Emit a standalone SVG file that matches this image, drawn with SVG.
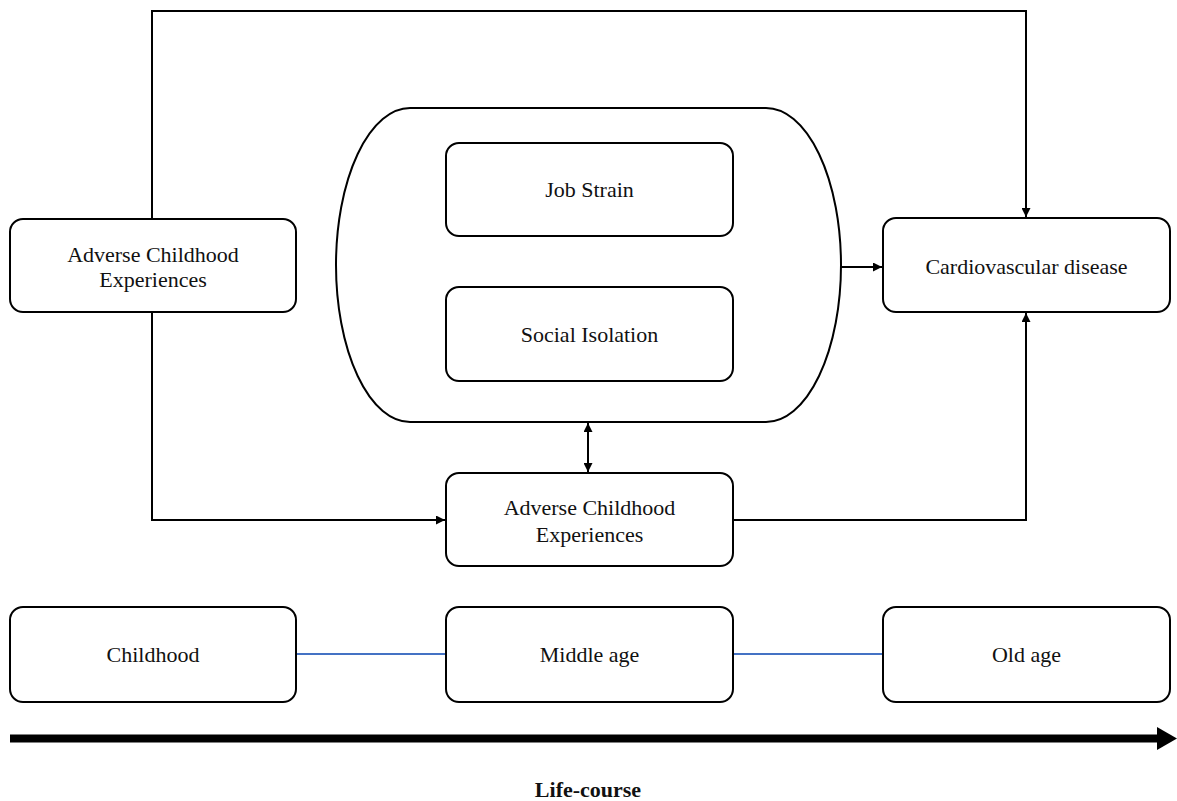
<svg xmlns="http://www.w3.org/2000/svg" width="1177" height="801" viewBox="0 0 1177 801">
<style>
.box{fill:#fff;stroke:#000;stroke-width:2}
.lbl{font-family:"Liberation Serif","Times New Roman",serif;font-size:22px;fill:#111;text-anchor:middle}
.con{fill:none;stroke:#000;stroke-width:2}
.blue{fill:none;stroke:#4472C4;stroke-width:2}
</style>
<defs>
<marker id="ah" viewBox="0 0 10 10" refX="10" refY="5" markerWidth="10" markerHeight="9" markerUnits="userSpaceOnUse" orient="auto-start-reverse">
<path d="M0,0 L10,5 L0,10 z" fill="#000"/>
</marker>
</defs>
<rect width="1177" height="801" fill="#fff"/>
<g id="connectors">
<path class="con" d="M152,219 V11 H1026 V217" marker-end="url(#ah)"/>
<path class="con" d="M152,312 V520 H445" marker-end="url(#ah)"/>
<path class="con" d="M733,520 H1026 V313" marker-end="url(#ah)"/>
<line class="con" x1="841" y1="267" x2="882" y2="267" marker-end="url(#ah)"/>
<line class="con" x1="588" y1="237" x2="588" y2="286" marker-start="url(#ah)" marker-end="url(#ah)"/>
<line class="con" x1="588" y1="423" x2="588" y2="472" marker-start="url(#ah)" marker-end="url(#ah)"/>
<line class="blue" x1="296" y1="654" x2="446" y2="654"/>
<line class="blue" x1="733" y1="654" x2="883" y2="654"/>
<line x1="10" y1="738.5" x2="1160" y2="738.5" stroke="#000" stroke-width="8"/>
<polygon points="1157,727 1177,738.5 1157,750" fill="#000"/>
</g>
<g id="mediator-group">
<path class="box" d="M410,108 H766 A75,157 0 0 1 766,422 H410 A74,157 0 0 1 410,108 Z"/>
</g>
<g id="ace-left">
<rect class="box" x="10" y="219" width="286" height="93" rx="13"/>
<text class="lbl" x="153" y="262">Adverse Childhood</text>
<text class="lbl" x="153" y="287">Experiences</text>
</g>
<g id="job-strain">
<rect class="box" x="446" y="143" width="287" height="93" rx="13"/>
<text class="lbl" x="589.5" y="197">Job Strain</text>
</g>
<g id="social-isolation">
<rect class="box" x="446" y="287" width="287" height="94" rx="13"/>
<text class="lbl" x="589.5" y="342">Social Isolation</text>
</g>
<g id="cvd">
<rect class="box" x="883" y="218" width="287" height="94" rx="13"/>
<text class="lbl" x="1026.5" y="274">Cardiovascular disease</text>
</g>
<g id="ace-middle">
<rect class="box" x="446" y="473" width="287" height="93" rx="13"/>
<text class="lbl" x="589.5" y="515">Adverse Childhood</text>
<text class="lbl" x="589.5" y="542">Experiences</text>
</g>
<g id="childhood">
<rect class="box" x="10" y="607" width="286" height="95" rx="13"/>
<text class="lbl" x="153" y="662">Childhood</text>
</g>
<g id="middle-age">
<rect class="box" x="446" y="607" width="287" height="95" rx="13"/>
<text class="lbl" x="589.5" y="662">Middle age</text>
</g>
<g id="old-age">
<rect class="box" x="883" y="607" width="287" height="95" rx="13"/>
<text class="lbl" x="1026.5" y="662">Old age</text>
</g>
<g id="life-course">
<text class="lbl" x="588" y="797" style="font-weight:bold">Life-course</text>
</g>
</svg>
